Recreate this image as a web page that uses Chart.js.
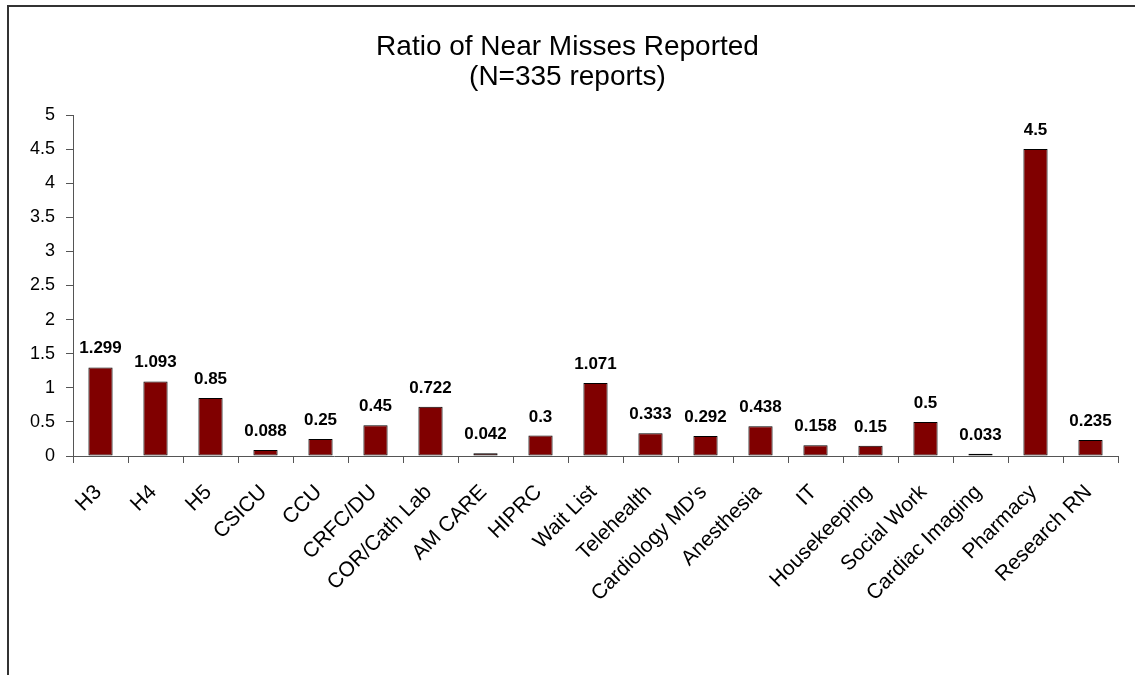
<!DOCTYPE html>
<html>
<head>
<meta charset="utf-8">
<title>Ratio of Near Misses Reported</title>
<script src="https://cdn.jsdelivr.net/npm/chart.js@4/dist/chart.umd.min.js"></script>
<style>
  html, body { margin: 0; padding: 0; background: #fff; }
  #wrap { width: 1135px; height: 675px; }
</style>
</head>
<body>
<div id="wrap"><canvas id="chart" width="1135" height="675"></canvas></div>
<script>
// Departments reporting near misses
const departments = [
  'H3', 'H4', 'H5', 'CSICU', 'CCU', 'CRFC/DU', 'COR/Cath Lab', 'AM CARE',
  'HIPRC', 'Wait List', 'Telehealth', "Cardiology MD's", 'Anesthesia', 'IT',
  'Housekeeping', 'Social Work', 'Cardiac Imaging', 'Pharmacy', 'Research RN'
];

// Ratio of near misses per department
const ratios = [
  1.299, 1.093, 0.85, 0.088, 0.25, 0.45, 0.722, 0.042,
  0.3, 1.071, 0.333, 0.292, 0.438, 0.158,
  0.15, 0.5, 0.033, 4.5, 0.235
];

// Value axis range
const yMin = 0;
const yMax = 5;
const yStep = 0.5;

const titleLines = ['Ratio of Near Misses Reported', '(N=335 reports)'];

const FONT = "'Liberation Sans', Arial, Helvetica, sans-serif";

// White background plus the left/top frame lines
const framePlugin = {
  id: 'frame',
  beforeDraw(chart) {
    const ctx = chart.ctx;
    ctx.save();
    ctx.fillStyle = '#ffffff';
    ctx.fillRect(0, 0, chart.width, chart.height);
    ctx.strokeStyle = '#333333';
    ctx.lineWidth = 2;
    ctx.beginPath();
    ctx.moveTo(8, chart.height);
    ctx.lineTo(8, 6);
    ctx.lineTo(chart.width, 6);
    ctx.stroke();
    ctx.restore();
  }
};

// Value labels above each bar
const valueLabelPlugin = {
  id: 'valueLabels',
  afterDatasetsDraw(chart) {
    const ctx = chart.ctx;
    const meta = chart.getDatasetMeta(0);
    const values = chart.data.datasets[0].data;
    ctx.save();
    ctx.font = 'bold 17px ' + FONT;
    ctx.fillStyle = '#000';
    ctx.textAlign = 'center';
    ctx.textBaseline = 'alphabetic';
    meta.data.forEach((bar, i) => {
      ctx.fillText(String(values[i]), bar.x, bar.y - 14);
    });
    ctx.restore();
  }
};

new Chart(document.getElementById('chart'), {
  type: 'bar',
  data: {
    labels: departments,
    datasets: [{
      data: ratios,
      backgroundColor: '#800000',
      borderColor: '#000000',
      borderWidth: 1,
      borderSkipped: false,
      categoryPercentage: 1.0,
      barPercentage: 0.44
    }]
  },
  options: {
    responsive: false,
    animation: false,
    devicePixelRatio: 1,
    layout: { padding: { left: 17, right: 17, top: 0, bottom: 0 } },
    plugins: {
      legend: { display: false },
      tooltip: { enabled: false },
      title: {
        display: true,
        text: titleLines,
        color: '#000',
        font: { family: FONT, size: 28, weight: 'normal', lineHeight: '30px' },
        padding: { top: 32, bottom: 23 }
      }
    },
    scales: {
      x: {
        offset: true,
        grid: {
          offset: true,
          drawOnChartArea: false,
          drawTicks: true,
          tickLength: 7,
          color: '#555'
        },
        border: { color: '#555', width: 1 },
        ticks: {
          autoSkip: false,
          maxRotation: 45,
          minRotation: 45,
          color: '#000',
          padding: 17,
          labelOffset: -2,
          font: { family: FONT, size: 21 }
        },
        afterFit(scale) { scale.height = 219; }
      },
      y: {
        min: yMin,
        max: yMax,
        grid: {
          drawOnChartArea: false,
          drawTicks: true,
          tickLength: 7,
          color: '#555'
        },
        border: { color: '#555', width: 1 },
        ticks: {
          stepSize: yStep,
          color: '#000',
          padding: 11,
          font: { family: FONT, size: 18 },
          callback: (value) => String(Number(value.toFixed(1)))
        },
        afterFit(scale) { scale.width = 56; }
      }
    }
  },
  plugins: [framePlugin, valueLabelPlugin]
});
</script>
</body>
</html>
